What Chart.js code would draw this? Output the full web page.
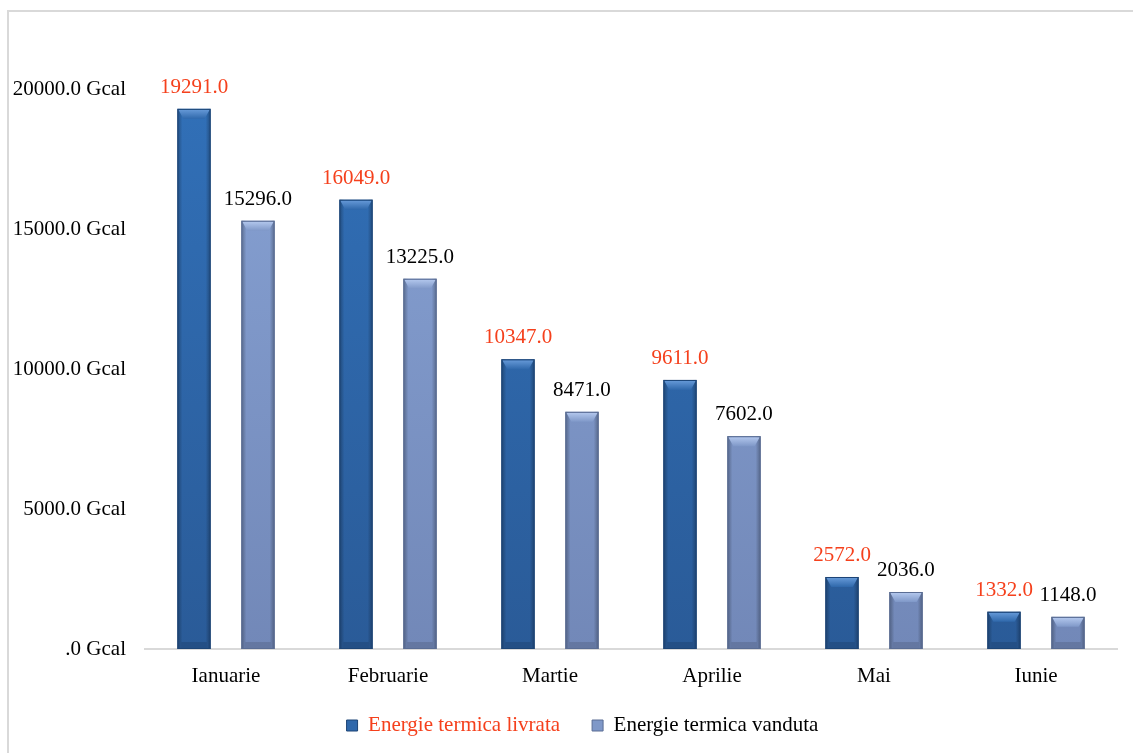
<!DOCTYPE html>
<html>
<head>
<meta charset="utf-8">
<script src="https://cdn.jsdelivr.net/npm/chart.js@4/dist/chart.umd.min.js"></script>
<style>
  html, body { margin: 0; padding: 0; background: #fff; }
  #wrap { width: 1133px; height: 753px; position: relative; }
</style>
</head>
<body>
<div id="wrap"><canvas id="heatChart"></canvas></div>
<script>
var months = ['Ianuarie', 'Februarie', 'Martie', 'Aprilie', 'Mai', 'Iunie'];
var livrata = [19291, 16049, 10347, 9611, 2572, 1332];
var vanduta = [15296, 13225, 8471, 7602, 2036, 1148];
var yTicks = [0, 5000, 10000, 15000, 20000];

var SERIF = '"Liberation Serif", "Times New Roman", serif';
var RED = '#f5401c';

var looks = [
    {body: '#2f68ab', light: '#6a9ddb', edge: '#1d4576', label: RED},
    {body: '#7f98c8', light: '#b7cbf0', edge: '#5a6d94', label: '#000000'}
];

// light grey frame round the whole chart
var framePlugin = {
    id: 'frame',
    beforeDraw: function(chart){
        var ctx = chart.ctx;
        ctx.save();
        ctx.strokeStyle = '#d9d9d9';
        ctx.lineWidth = 2;
        ctx.strokeRect(8, 11, 1200, 800);
        ctx.restore();
    }
};

// legend sits a bit right of centre in the original
var legendShift = {
    id: 'legendShift',
    afterLayout: function(chart){
        if(chart.legend){
            chart.legend.left += 18;
            chart.legend.right += 18;
        }
    }
};

// bevel look on top of the bars the library drew
var bevelPlugin = {
    id: 'bevel',
    afterDatasetsDraw: function(chart){
        var ctx = chart.ctx;
        chart.data.datasets.forEach(function(ds, i){
            var meta = chart.getDatasetMeta(i);
            var look = looks[i];
            meta.data.forEach(function(bar){
                var p = bar.getProps(['x', 'y', 'base', 'width'], true);
                var l = p.x - p.width / 2, r = p.x + p.width / 2;
                var t = p.y, b = p.base;
                var bev = Math.min(10, (b - t) / 3);
                ctx.save();
                // side shading
                var g = ctx.createLinearGradient(l, 0, r, 0);
                g.addColorStop(0, 'rgba(0,0,0,0.3)');
                g.addColorStop(0.15, 'rgba(0,0,0,0)');
                g.addColorStop(0.85, 'rgba(0,0,0,0)');
                g.addColorStop(1, 'rgba(0,0,0,0.3)');
                ctx.fillStyle = g;
                ctx.fillRect(l, t, r - l, b - t);
                // top bevel
                ctx.beginPath();
                ctx.moveTo(l + 1, t + 1);
                ctx.lineTo(r - 1, t + 1);
                ctx.lineTo(r - 6, t + bev);
                ctx.lineTo(l + 6, t + bev);
                ctx.closePath();
                var gt = ctx.createLinearGradient(0, t, 0, t + bev);
                gt.addColorStop(0, look.light);
                gt.addColorStop(1, look.body);
                ctx.fillStyle = gt;
                ctx.fill();
                // darker bottom strip
                ctx.fillStyle = 'rgba(0,0,0,0.12)';
                ctx.fillRect(l + 4, b - 7, r - l - 8, 7);
                ctx.strokeStyle = look.edge;
                ctx.lineWidth = 1;
                ctx.strokeRect(l + 0.5, t + 0.5, r - l - 1, b - t - 1);
                ctx.restore();
            });
        });
    }
};

// value labels above bars
var valuePlugin = {
    id: 'values',
    afterDatasetsDraw: function(chart){
        var ctx = chart.ctx;
        ctx.save();
        ctx.font = '21px ' + SERIF;
        ctx.textAlign = 'center';
        ctx.textBaseline = 'bottom';
        chart.data.datasets.forEach(function(ds, i){
            var meta = chart.getDatasetMeta(i);
            ctx.fillStyle = looks[i].label;
            meta.data.forEach(function(bar, j){
                ctx.fillText(ds.data[j].toFixed(1), bar.x, bar.y - 11);
            });
        });
        ctx.restore();
    }
};

function barFill(i){
    return function(c){
        var area = c.chart.chartArea;
        if(!area) return looks[i].body;
        var g = c.chart.ctx.createLinearGradient(0, area.top, 0, area.bottom);
        g.addColorStop(0, i === 0 ? '#3170b8' : '#87a2d4');
        g.addColorStop(1, i === 0 ? '#2a5b98' : '#7288b8');
        return g;
    };
}

var heatChart = new Chart(document.getElementById('heatChart'), {
    type: 'bar',
    data: {
        labels: months,
        datasets: [
            {label: 'Energie termica livrata', data: livrata, backgroundColor: barFill(0),
             categoryPercentage: 0.79, barPercentage: 0.52},
            {label: 'Energie termica vanduta', data: vanduta, backgroundColor: barFill(1),
             categoryPercentage: 0.79, barPercentage: 0.52}
        ]
    },
    options: {
        responsive: true,
        maintainAspectRatio: false,
        animation: false,
        layout: {padding: {left: 12, right: 16, top: 89, bottom: 7}},
        plugins: {
            tooltip: {enabled: false},
            legend: {
                position: 'bottom',
                labels: {
                    boxWidth: 11,
                    boxHeight: 11,
                    padding: 11,
                    font: {family: SERIF, size: 21},
                    generateLabels: function(chart){
                        return chart.data.datasets.map(function(ds, i){
                            return {
                                // trailing spaces widen the gap between the two items
                                text: i === 0 ? ds.label + '    ' : ds.label,
                                fillStyle: looks[i].body,
                                strokeStyle: looks[i].edge,
                                lineWidth: 1,
                                fontColor: looks[i].label,
                                datasetIndex: i
                            };
                        });
                    }
                }
            }
        },
        scales: {
            x: {
                grid: {display: false, drawTicks: false},
                border: {display: true, color: '#d9d9d9', width: 2},
                ticks: {color: '#000', font: {family: SERIF, size: 21, lineHeight: 1.0}, padding: 17}
            },
            y: {
                min: 0,
                max: 20000,
                afterBuildTicks: function(axis){
                    axis.ticks = yTicks.map(function(v){ return {value: v}; });
                },
                afterFit: function(axis){
                    axis.width = 133;
                },
                grid: {display: false, drawTicks: false},
                border: {display: false},
                ticks: {
                    color: '#000',
                    font: {family: SERIF, size: 21},
                    padding: 19,
                    callback: function(v){
                        return v === 0 ? '.0 Gcal' : v.toFixed(1) + ' Gcal';
                    }
                }
            }
        }
    },
    plugins: [framePlugin, legendShift, bevelPlugin, valuePlugin]
});
</script>
</body>
</html>
